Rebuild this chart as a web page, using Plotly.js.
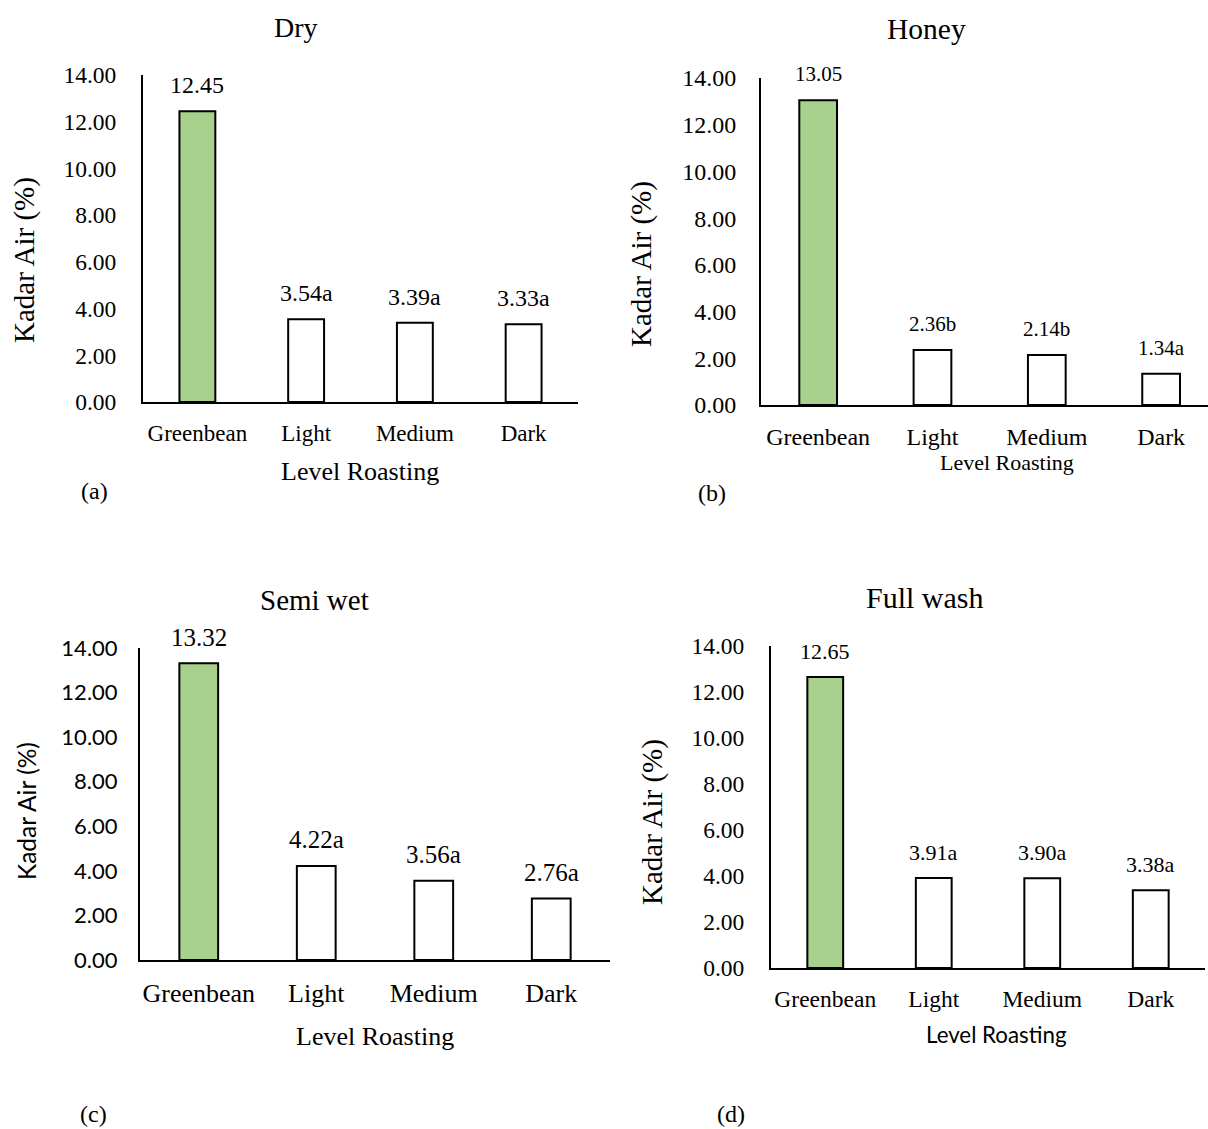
<!DOCTYPE html>
<html>
<head>
<meta charset="utf-8">
<script src="https://cdn.plot.ly/plotly-3.0.1.min.js"></script>
<style>html,body{margin:0;padding:0;background:#fff;}#chart{width:1208px;height:1129px;}</style>
</head>
<body>
<div id="chart"></div>
<script>
// ---- data ----
const categories = ["Greenbean", "Light", "Medium", "Dark"];
const dryValues = [12.45, 3.54, 3.39, 3.33];
const dryLetters = ["", "a", "a", "a"];
const honeyValues = [13.05, 2.36, 2.14, 1.34];
const honeyLetters = ["", "b", "b", "a"];
const semiWetValues = [13.32, 4.22, 3.56, 2.76];
const semiWetLetters = ["", "a", "a", "a"];
const fullWashValues = [12.65, 3.91, 3.90, 3.38];
const fullWashLetters = ["", "a", "a", "a"];
const panelTitles = ["Dry", "Honey", "Semi wet", "Full wash"];
const panelLetters = ["(a)", "(b)", "(c)", "(d)"];
const yTickValues = [0, 2, 4, 6, 8, 10, 12, 14];
const yTickText = ["0.00", "2.00", "4.00", "6.00", "8.00", "10.00", "12.00", "14.00"];
const xAxisTitle = "Level Roasting";
const yAxisTitle = "Kadar Air (%)";

// ---- styling ----
const W = 1208, H = 1129;
const SERIF = "Liberation Serif, Times New Roman, serif";
const SANS = "Lato, Open Sans, sans-serif";
const GREEN = "#a9d18e";
const px = v => v / W;
const py = v => 1 - v / H;

const panels = [
  {vals: dryValues, lets: dryLetters, xd: [143, 578], yd: [402, 75], xr: [-0.5, 3.5],
   tickFont: SERIF, tickSize: 23.5, tickStand: 20, catSize: 23, barSize: 24,
   title: {x: 296, y: 27, size: 28}, ytitle: {x: 24, y: 260, size: 29, font: SERIF},
   xtitle: {x: 360, y: 472, size: 26, font: SERIF}, letter: {x: 94, y: 491}},
  {vals: honeyValues, lets: honeyLetters, xd: [761, 1208], yd: [405, 78], xr: [-0.5, 3.41],
   tickFont: SERIF, tickSize: 24, tickStand: 18, catSize: 24, barSize: 21,
   title: {x: 926, y: 29, size: 29.5}, ytitle: {x: 642, y: 264, size: 29, font: SERIF},
   xtitle: {x: 1007, y: 463, size: 22, font: SERIF}, letter: {x: 712, y: 493}},
  {vals: semiWetValues, lets: semiWetLetters, xd: [140, 610], yd: [960, 648], xr: [-0.5, 3.5],
   tickFont: SANS, tickSize: 22, tickStand: 16, catSize: 26, barSize: 25,
   title: {x: 314, y: 600, size: 29}, ytitle: {x: 26, y: 811, size: 24.5, font: SANS},
   xtitle: {x: 375, y: 1036, size: 26, font: SERIF}, letter: {x: 93, y: 1114}},
  {vals: fullWashValues, lets: fullWashLetters, xd: [771, 1205], yd: [968, 646], xr: [-0.5, 3.5],
   tickFont: SERIF, tickSize: 23.5, tickStand: 20, catSize: 23.5, barSize: 22,
   title: {x: 925, y: 597, size: 30}, ytitle: {x: 652, y: 822, size: 29, font: SERIF},
   xtitle: {x: 996, y: 1034, size: 22.3, font: SANS}, letter: {x: 731, y: 1114}}
];

const traces = [];
const layout = {
  width: W, height: H,
  margin: {l: 0, r: 0, t: 0, b: 0},
  paper_bgcolor: "#ffffff", plot_bgcolor: "#ffffff",
  showlegend: false, bargap: 0.67,
  annotations: []
};

panels.forEach((p, i) => {
  const n = i + 1;
  const xa = n === 1 ? "x" : "x" + n;
  const ya = n === 1 ? "y" : "y" + n;
  traces.push({
    type: "bar", x: categories, y: p.vals, xaxis: xa, yaxis: ya,
    marker: {color: categories.map((c, k) => k === 0 ? GREEN : "#ffffff"),
             line: {color: "#000000", width: 2}},
    hoverinfo: "x+y", cliponaxis: false
  });
  layout["xaxis" + (n === 1 ? "" : n)] = {
    domain: [px(p.xd[0]), px(p.xd[1])], anchor: ya, range: p.xr,
    type: "category", showgrid: false, zeroline: false,
    showline: true, linecolor: "#000000", linewidth: 2, ticks: "",
    tickfont: {family: SERIF, size: p.catSize, color: "#000000"},
    ticklabelstandoff: 9, fixedrange: true
  };
  layout["yaxis" + (n === 1 ? "" : n)] = {
    domain: [py(p.yd[0]), py(p.yd[1])], anchor: xa, range: [0, 14],
    showgrid: false, zeroline: false, showline: true, linecolor: "#000000", linewidth: 2,
    ticks: "", tickvals: yTickValues, ticktext: yTickText,
    tickfont: {family: p.tickFont, size: p.tickSize, color: "#000000"},
    ticklabelstandoff: p.tickStand, fixedrange: true
  };
  // value labels
  p.vals.forEach((v, k) => {
    layout.annotations.push({
      xref: xa, yref: ya, x: categories[k], y: v, text: v.toFixed(2) + p.lets[k],
      showarrow: false, yanchor: "middle", yshift: 26,
      font: {family: SERIF, size: p.barSize, color: "#000000"}
    });
  });
  // panel title
  layout.annotations.push({xref: "paper", yref: "paper", x: px(p.title.x), y: py(p.title.y),
    text: panelTitles[i], showarrow: false, xanchor: "center", yanchor: "middle",
    font: {family: SERIF, size: p.title.size, color: "#000000"}});
  // y axis title
  layout.annotations.push({xref: "paper", yref: "paper", x: px(p.ytitle.x), y: py(p.ytitle.y),
    text: yAxisTitle, showarrow: false, textangle: -90, xanchor: "center", yanchor: "middle",
    font: {family: p.ytitle.font, size: p.ytitle.size, color: "#000000"}});
  // x axis title
  layout.annotations.push({xref: "paper", yref: "paper", x: px(p.xtitle.x), y: py(p.xtitle.y),
    text: xAxisTitle, showarrow: false, xanchor: "center", yanchor: "middle",
    font: {family: p.xtitle.font, size: p.xtitle.size, color: "#000000"}});
  // panel letter
  layout.annotations.push({xref: "paper", yref: "paper", x: px(p.letter.x), y: py(p.letter.y),
    text: panelLetters[i], showarrow: false, xanchor: "center", yanchor: "middle",
    font: {family: SERIF, size: 24, color: "#000000"}});
});

Plotly.newPlot("chart", traces, layout, {displayModeBar: false, staticPlot: true});
</script>
</body>
</html>
